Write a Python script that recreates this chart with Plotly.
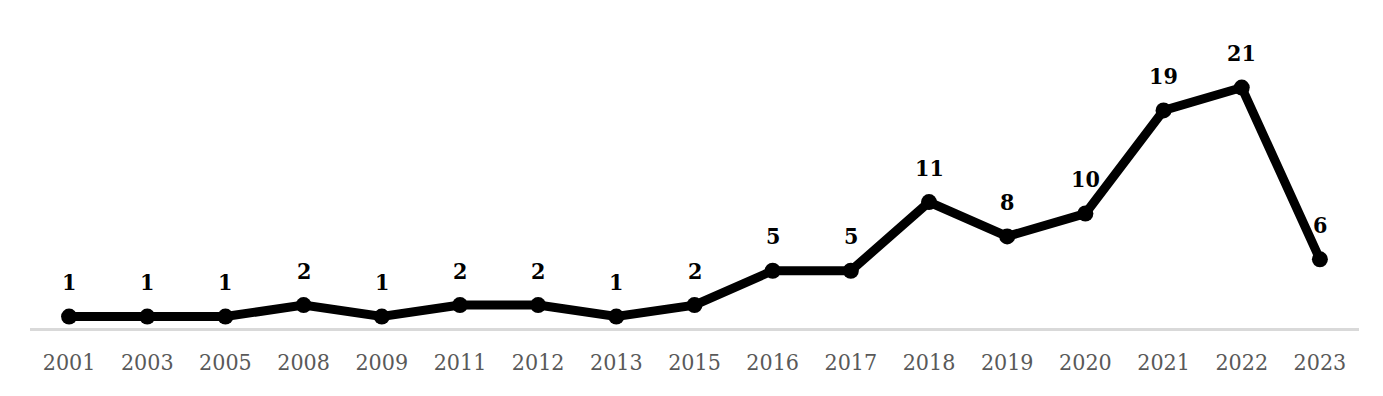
import plotly.graph_objects as go

years = ["2001", "2003", "2005", "2008", "2009", "2011", "2012", "2013", "2015",
         "2016", "2017", "2018", "2019", "2020", "2021", "2022", "2023"]
counts = [1, 1, 1, 2, 1, 2, 2, 1, 2, 5, 5, 11, 8, 10, 19, 21, 6]

FONT = "DejaVu Serif Condensed, DejaVu Serif, serif"

fig = go.Figure()
fig.add_trace(go.Scatter(
    x=list(range(len(years))), y=counts, mode="lines+markers",
    line=dict(color="black", width=9),
    marker=dict(color="black", size=16),
    hoverinfo="skip",
))

for i, c in enumerate(counts):
    fig.add_annotation(x=i, y=c, text=f"<b>{c}</b>", showarrow=False,
                       yshift=35, yanchor="middle",
                       font=dict(family=FONT, size=23, color="black"))

fig.update_layout(
    width=1383, height=396,
    margin=dict(l=30, r=24, t=20, b=68),
    paper_bgcolor="white", plot_bgcolor="white",
    showlegend=False,
    xaxis=dict(range=[-0.5, 16.5], showgrid=False, zeroline=False,
               tickmode="array", tickvals=list(range(len(years))), ticktext=years,
               showline=True, linecolor="#d9d9d9", linewidth=2.5,
               ticks="", ticklabelstandoff=12,
               tickfont=dict(family=FONT, size=23, color="#595959")),
    yaxis=dict(range=[0, 26.9], visible=False, showgrid=False, zeroline=False),
)

fig.write_html("out.html")
